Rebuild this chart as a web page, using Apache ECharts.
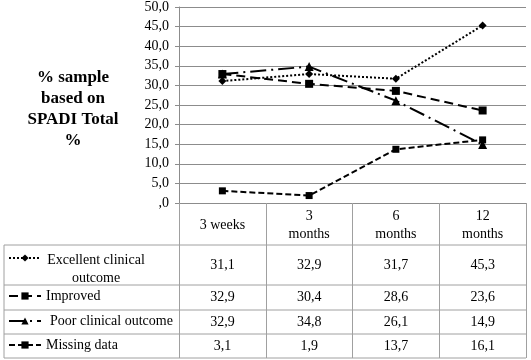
<!DOCTYPE html>
<html>
<head>
<meta charset="utf-8">
<script src="https://cdn.jsdelivr.net/npm/echarts@6/dist/echarts.min.js"></script>
<style>html,body{margin:0;padding:0;background:#fff}#c{width:531px;height:360px}</style>
</head>
<body>
<div id="c"></div>
<script>
// ---- data ----
const categories = ['3 weeks', '3\nmonths', '6\nmonths', '12\nmonths'];
const seriesNames = ['Excellent clinical outcome', 'Improved', 'Poor clinical outcome', 'Missing data'];
const excellent = [31.1, 32.9, 31.7, 45.3];
const improved = [32.9, 30.4, 28.6, 23.6];
const poor = [32.9, 34.8, 26.1, 14.9];
const missing = [3.1, 1.9, 13.7, 16.1];
const yMin = 0, yMax = 50, yStep = 5;
const yTitle = '% sample\nbased on\nSPADI Total\n%';

// ---- layout ----
const FONT = 'Liberation Serif';
const GRID_L = 179, GRID_R = 5, GRID_T = 6, GRID_B = 157;
const AXIS_Y = 203;
const TABLE_L = 4, TABLE_R = 526;
const rowEdges = [203, 245, 285, 310, 334, 358];
const lineGrey = '#8c8c8c';
const tableGrey = '#a0a0a0';

function fmt(v) {
  const s = v.toFixed(1).replace('.', ',');
  return s.startsWith('0,') ? s.slice(1) : s;
}

const allValues = [excellent, improved, poor, missing];
const styles = [
  { symbol: 'diamond', symbolSize: 8, type: [2, 2] },
  { symbol: 'rect', symbolSize: 8, type: [9, 5] },
  { symbol: 'triangle', symbolSize: 9, type: [16, 5, 2, 5] },
  { symbol: 'rect', symbolSize: 7, type: [6, 3] }
];

const xAxes = [{
  type: 'category', data: categories, gridIndex: 0, position: 'bottom',
  boundaryGap: true,
  axisLine: { show: true, lineStyle: { color: lineGrey, width: 1 } },
  axisTick: { show: true, length: rowEdges[1] - rowEdges[0], interval: 0, lineStyle: { color: tableGrey } },
  axisLabel: { interval: 0, margin: (rowEdges[1] - rowEdges[0]) / 2 + 1, verticalAlign: 'middle',
    fontFamily: FONT, fontSize: 14, lineHeight: 18, color: '#000', align: 'center' },
  splitLine: { show: false }
}];
allValues.forEach((vals, i) => {
  const top = rowEdges[i + 1], h = rowEdges[i + 2] - rowEdges[i + 1];
  xAxes.push({
    type: 'category', data: categories, gridIndex: 0, position: 'bottom',
    offset: top - AXIS_Y, boundaryGap: true,
    axisLine: { show: false },
    axisTick: { show: true, length: h, interval: 0, lineStyle: { color: tableGrey } },
    axisLabel: { interval: 0, margin: h / 2, verticalAlign: 'middle',
      fontFamily: FONT, fontSize: 14, color: '#000',
      formatter: (v, idx) => fmt(vals[idx]) },
    splitLine: { show: false }
  });
});

const series = allValues.map((vals, i) => ({
  name: seriesNames[i], type: 'line', xAxisIndex: 0, yAxisIndex: 0,
  data: vals, symbol: styles[i].symbol, symbolSize: styles[i].symbolSize,
  lineStyle: { color: '#000', width: 2, type: styles[i].type },
  itemStyle: { color: '#000' }, z: 5 + i, animation: false
}));

const legends = seriesNames.map((n, i) => {
  const c = [257, 297, 322, 346][i];
  const base = {
    data: [n], left: 8, orient: 'horizontal', itemWidth: 32, itemHeight: 9,
    padding: 0, itemGap: 0, selectedMode: false,
    textStyle: { fontFamily: FONT, fontSize: 14, color: '#000' }
  };
  if (i === 0) {
    base.top = c - 4;
    base.formatter = () => '{a|Excellent clinical}\n{a|outcome}';
    base.textStyle = { fontFamily: FONT, fontSize: 14, color: '#000', padding: [22, 0, 0, 0],
      rich: { a: { width: 100, align: 'center', fontFamily: FONT, fontSize: 14, lineHeight: 18, color: '#000' } } };
  } else {
    base.top = c - 8;
    if (i === 2) base.textStyle.padding = [0, 0, 0, 4];
  }
  return base;
});

const graphics = [];
for (let k = 1; k < rowEdges.length; k++) {
  graphics.push({ type: 'line', shape: { x1: TABLE_L, y1: rowEdges[k], x2: TABLE_R, y2: rowEdges[k] },
    style: { stroke: tableGrey, lineWidth: 1 }, silent: true });
}
graphics.push({ type: 'line', shape: { x1: TABLE_L, y1: rowEdges[1], x2: TABLE_L, y2: rowEdges[rowEdges.length - 1] },
  style: { stroke: tableGrey, lineWidth: 1 }, silent: true });

const chart = echarts.init(document.getElementById('c'), null, { renderer: 'canvas' });
chart.setOption({
  animation: false,
  backgroundColor: '#fff',
  title: { text: yTitle, left: 73, top: 67, textAlign: 'center', padding: 0,
    textStyle: { fontFamily: FONT, fontSize: 17, fontWeight: 'bold', lineHeight: 21, color: '#000' } },
  grid: { left: GRID_L, right: GRID_R, top: GRID_T, bottom: GRID_B, containLabel: false },
  xAxis: xAxes,
  yAxis: {
    type: 'value', min: yMin, max: yMax, interval: yStep,
    axisLine: { show: true, lineStyle: { color: lineGrey } },
    axisTick: { show: true, length: 4, lineStyle: { color: lineGrey } },
    axisLabel: { margin: 10, fontFamily: FONT, fontSize: 14, color: '#000', formatter: v => fmt(v) },
    splitLine: { show: true, lineStyle: { color: lineGrey, width: 1 } }
  },
  legend: legends,
  graphic: graphics,
  series: series
});
</script>
</body>
</html>
